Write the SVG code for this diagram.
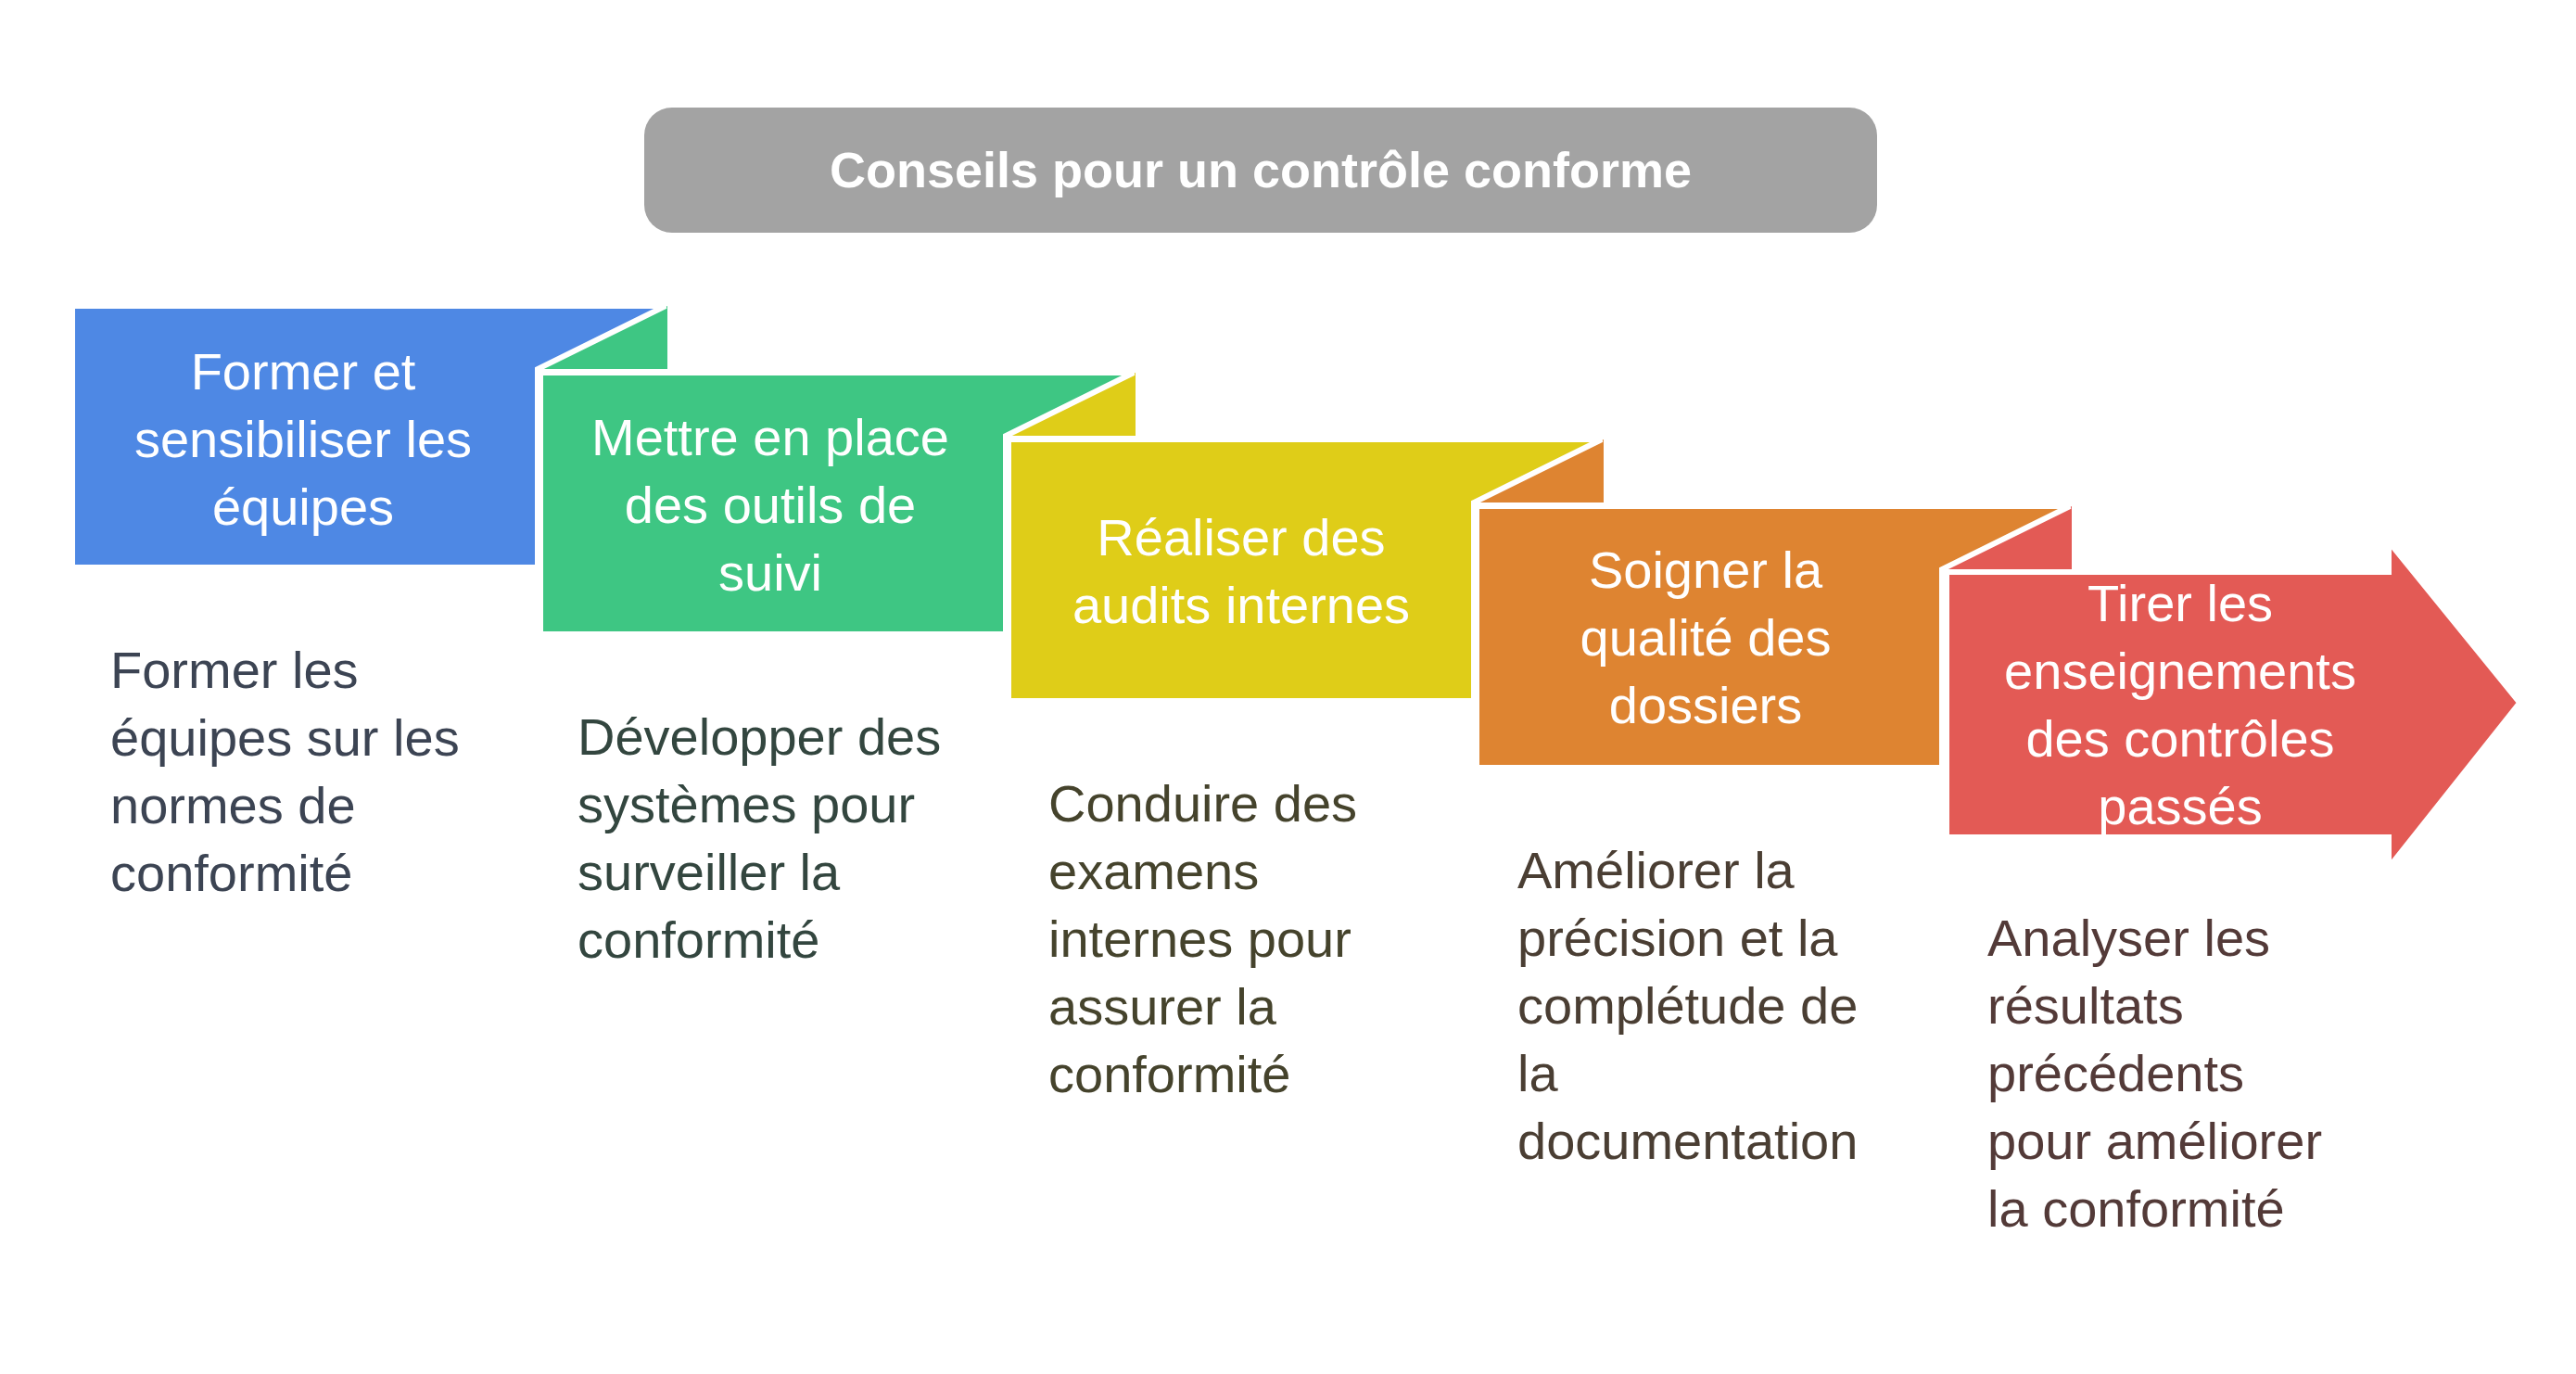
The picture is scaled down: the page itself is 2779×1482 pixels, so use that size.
<svg xmlns="http://www.w3.org/2000/svg" width="2779" height="1482" viewBox="0 0 2779 1482">
<style>
.t{font-family:"Liberation Sans",Arial,sans-serif;font-size:56px;fill:#fff;text-anchor:middle}
.d{font-family:"Liberation Sans",Arial,sans-serif;font-size:56px}
.s{stroke:#fff;stroke-width:6;stroke-linejoin:miter}
</style>
<rect width="2779" height="1482" fill="#fff"/>
<g id="title">
<rect x="695" y="116" width="1330" height="135" rx="30" fill="#a3a3a3"/>
<text x="1360" y="202" class="t" style="font-weight:bold;font-size:54px">Conseils pour un contrôle conforme</text>
</g>
<g id="tabs">
<polygon points="580,398 720,330 720,398" fill="#3ec683"/>
<polygon points="1085,470 1225,402 1225,470" fill="#dfcd18"/>
<polygon points="1590,542 1730,474 1730,542" fill="#de8431"/>
<polygon points="2095,614 2235,546 2235,614" fill="#e35a55"/>
</g>
<g id="step1">
<polygon class="s" points="78,330 718,330 580,398 580,612 78,612" fill="#4e88e4"/>
<text class="t"><tspan x="327" y="420">Former et</tspan><tspan x="327" y="493">sensibiliser les</tspan><tspan x="327" y="566">équipes</tspan></text>
<text class="d" fill="#3c4453"><tspan x="119" y="742">Former les</tspan><tspan x="119" y="815">équipes sur les</tspan><tspan x="119" y="888">normes de</tspan><tspan x="119" y="961">conformité</tspan></text>
</g>
<g id="step2">
<polygon class="s" points="583,402 1223,402 1085,470 1085,684 583,684" fill="#3ec683"/>
<text class="t"><tspan x="831" y="491">Mettre en place</tspan><tspan x="831" y="564">des outils de</tspan><tspan x="831" y="637">suivi</tspan></text>
<text class="d" fill="#33463f"><tspan x="623" y="814">Développer des</tspan><tspan x="623" y="887">systèmes pour</tspan><tspan x="623" y="960">surveiller la</tspan><tspan x="623" y="1033">conformité</tspan></text>
</g>
<g id="step3">
<polygon class="s" points="1088,474 1728,474 1590,542 1590,756 1088,756" fill="#dfcd18"/>
<text class="t"><tspan x="1339" y="599">Réaliser des</tspan><tspan x="1339" y="672">audits internes</tspan></text>
<text class="d" fill="#45432c"><tspan x="1131" y="886">Conduire des</tspan><tspan x="1131" y="959">examens</tspan><tspan x="1131" y="1032">internes pour</tspan><tspan x="1131" y="1105">assurer la</tspan><tspan x="1131" y="1178">conformité</tspan></text>
</g>
<g id="step4">
<polygon class="s" points="1593,546 2233,546 2095,614 2095,828 1593,828" fill="#de8431"/>
<text class="t"><tspan x="1840" y="634">Soigner la</tspan><tspan x="1840" y="707">qualité des</tspan><tspan x="1840" y="780">dossiers</tspan></text>
<text class="d" fill="#4a3e33"><tspan x="1637" y="958">Améliorer la</tspan><tspan x="1637" y="1031">précision et la</tspan><tspan x="1637" y="1104">complétude de</tspan><tspan x="1637" y="1177">la</tspan><tspan x="1637" y="1250">documentation</tspan></text>
</g>
<g id="step5">
<polygon class="s" points="2101,618 2578,618 2578,587 2717,758 2578,933 2578,902 2101,902" fill="#e35a55" style="stroke-width:4"/>
<text class="t"><tspan x="2352" y="670">Tirer les</tspan><tspan x="2352" y="743">enseignements</tspan><tspan x="2352" y="816">des contrôles</tspan><tspan x="2352" y="889">passés</tspan></text>
<text class="d" fill="#533a38"><tspan x="2144" y="1031">Analyser les</tspan><tspan x="2144" y="1104">résultats</tspan><tspan x="2144" y="1177">précédents</tspan><tspan x="2144" y="1250">pour améliorer</tspan><tspan x="2144" y="1323">la conformité</tspan></text>
</g>
<g id="connectors"/>
</svg>
